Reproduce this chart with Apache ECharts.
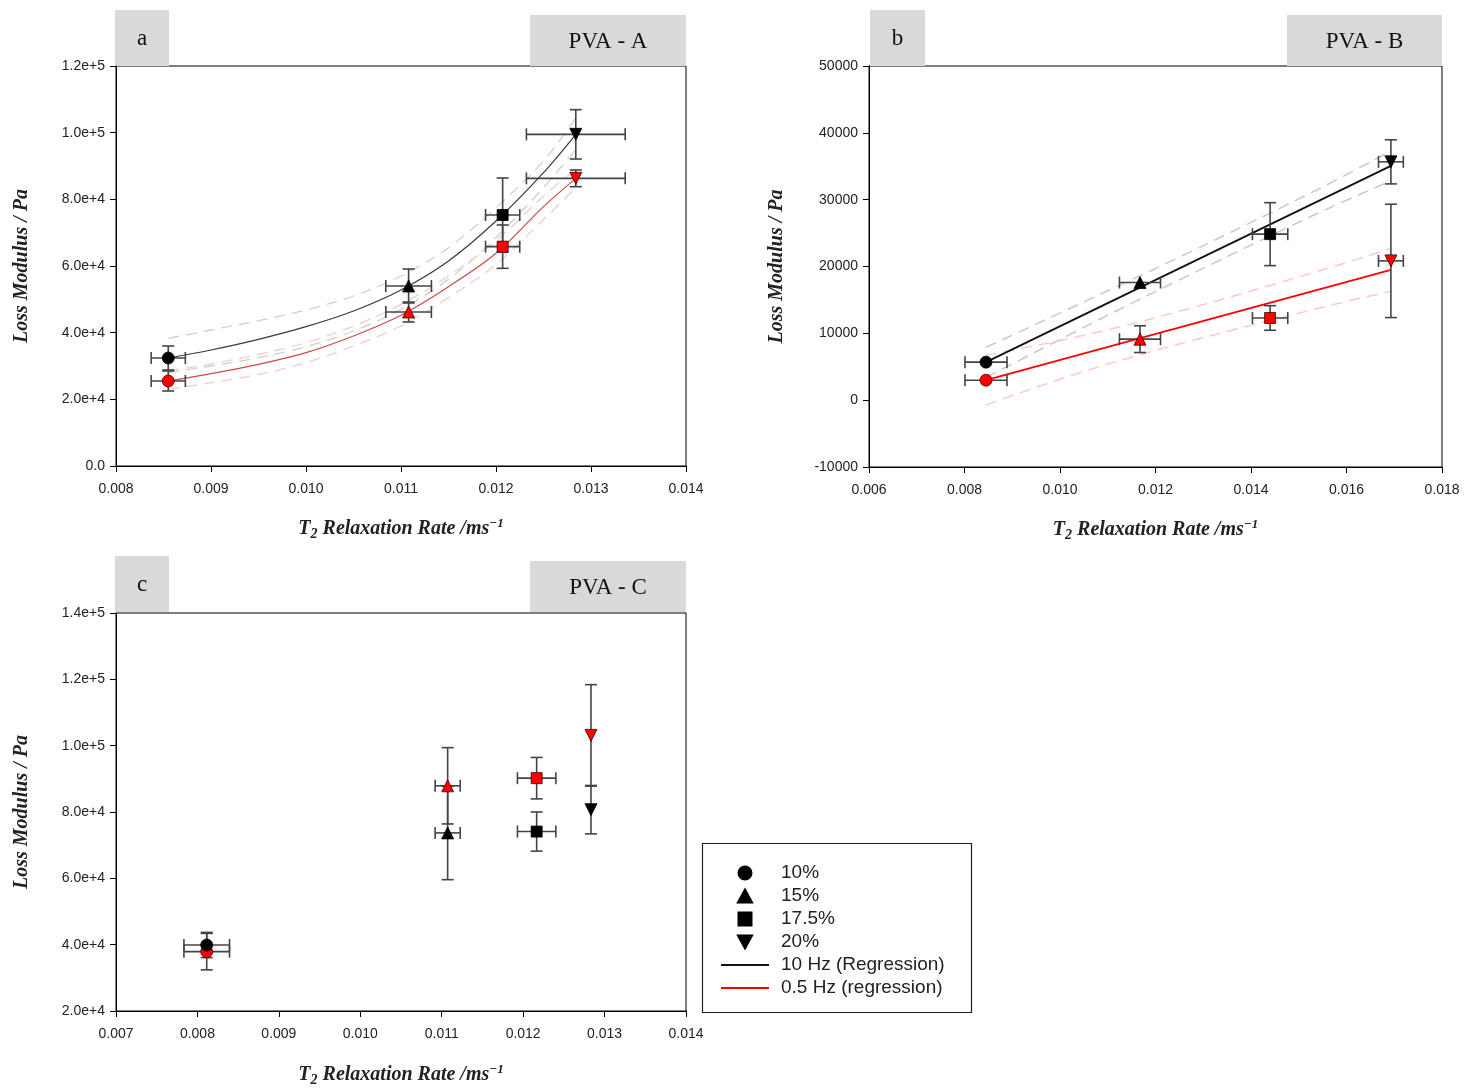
<!DOCTYPE html>
<html>
<head>
<meta charset="utf-8">
<script src="https://cdn.jsdelivr.net/npm/echarts@6/dist/echarts.min.js"></script>
<style>
  html, body { margin: 0; padding: 0; background: #fff; }
  #chart { width: 1468px; height: 1088px; }
</style>
</head>
<body>
<div id="chart"></div>
<script>
// concentrations (legend) and panel data
const concNames = ['10%', '15%', '17.5%', '20%'];

// panel a  (PVA - A)
const aX = [0.00855, 0.01108, 0.01207, 0.01284];
const aXErr = [0.00018, 0.00024, 0.00018, 0.00052];
const aHiY = [32400, 54000, 75300, 99500];
const aHiYErr = [3600, 5100, 11100, 7400];
const aLoY = [25500, 46200, 65800, 86300];
const aLoYErr = [3000, 3000, 6500, 2500];
const aFitX = [0.00855, 0.009, 0.0095, 0.010, 0.0105, 0.011, 0.0115, 0.012, 0.0125, 0.01284];
const aFitHi = [32400, 34800, 38000, 41800, 46500, 52800, 61500, 73500, 88000, 99500];
const aFitHiUp = [38300, 40800, 43600, 46800, 51000, 57000, 65500, 77500, 91500, 104500];
const aFitHiDn = [28000, 30000, 32500, 35800, 40500, 47000, 56000, 68500, 83500, 95000];
const aFitLo = [25500, 27700, 30500, 34000, 39000, 45200, 53800, 63800, 77800, 86300];
const aFitLoUp = [28500, 30600, 33500, 37000, 42000, 48500, 57000, 67500, 81000, 89000];
const aFitLoDn = [23000, 25000, 27500, 31000, 36000, 42000, 50500, 60500, 74000, 83500];

// panel b  (PVA - B)
const bX = [0.00845, 0.011675, 0.01440, 0.01693];
const bXErr = [0.00044, 0.00043, 0.00037, 0.00026];
const bHiY = [5690, 17600, 24840, 35660];
const bHiYErr = [0, 0, 4710, 3300];
const bLoY = [2990, 9130, 12300, 20840];
const bLoYErr = [0, 2000, 1840, 8480];
const bFitX = [0.00845, 0.01693];
const bFitHi = [5690, 35060];
const bFitLo = [2990, 19500];
const bBandX = [0.00845, 0.0105, 0.0125, 0.0155, 0.01693];
const bFitHiUp = [7900, 14700, 21400, 31900, 37300];
const bFitHiDn = [3400, 10900, 18000, 28300, 32800];
const bFitLoUp = [6700, 9700, 13300, 19500, 22700];
const bFitLoDn = [-700, 4300, 8400, 13900, 16300];

// panel c  (PVA - C)
const cX = [0.008114, 0.011073, 0.012166, 0.012833];
const cXErr = [0.00028, 0.000154, 0.000236, 0];
const cHiY = [39900, 73700, 74100, 80700];
const cHiYErr = [3800, 14100, 5900, 7300];
const cLoY = [37900, 87900, 90200, 103100];
const cLoYErr = [5500, 11500, 6250, 15300];

const sans = 'Liberation Sans, Arial, sans-serif';
const serif = 'Liberation Serif, Times New Roman, serif';
const RED = '#ff0000';
const HI_NAME = '10 Hz (Regression)';
const LO_NAME = '0.5 Hz (regression)';

const symbols = [
  { symbol: 'circle', size: 12, rotate: 0 },
  { symbol: 'triangle', size: 12, rotate: 0 },
  { symbol: 'rect', size: 11, rotate: 0 },
  { symbol: 'triangle', size: 12, rotate: 180 }
];

const grids = [
  { left: 116, top: 66, width: 570, height: 400 },
  { left: 869, top: 66, width: 573, height: 401 },
  { left: 116, top: 613, width: 570, height: 400 }
].map(g => Object.assign({ show: true, borderColor: '#000', borderWidth: 1, backgroundColor: 'transparent' }, g));

const sci = v => (v === 0 ? '0.0' : v.toExponential(1));

function xAxis(gi, min, max, interval) {
  return {
    type: 'value', gridIndex: gi, min, max, interval,
    name: 'T{sub|2} Relaxation Rate /ms{sup|−1}',
    nameLocation: 'middle', nameGap: gi === 2 ? 52 : 51,
    nameTextStyle: {
      fontFamily: serif, fontSize: 20, fontWeight: 'bold', fontStyle: 'italic', color: '#222',
      rich: {
        sub: { fontFamily: serif, fontSize: 14, fontWeight: 'bold', fontStyle: 'italic', verticalAlign: 'bottom', padding: [10, 0, 0, 0], color: '#222' },
        sup: { fontFamily: serif, fontSize: 13, fontWeight: 'bold', fontStyle: 'italic', verticalAlign: 'top', padding: [0, 0, 8, 0], color: '#222' }
      }
    },
    axisLine: { show: true, onZero: false, lineStyle: { color: '#000', width: 1 } },
    axisTick: { show: true, inside: false, length: 6, lineStyle: { color: '#000' } },
    axisLabel: { fontFamily: sans, fontSize: 14, color: '#222', margin: 16, formatter: v => v.toFixed(3) },
    splitLine: { show: false }
  };
}

function yAxis(gi, min, max, interval, fmt) {
  return {
    type: 'value', gridIndex: gi, min, max, interval,
    name: 'Loss Modulus / Pa',
    nameLocation: 'middle', nameGap: gi === 1 ? 82 : 84,
    nameTextStyle: { fontFamily: serif, fontSize: 20, fontWeight: 'bold', fontStyle: 'italic', color: '#222' },
    axisLine: { show: true, onZero: false, lineStyle: { color: '#000', width: 1 } },
    axisTick: { show: true, inside: false, length: 6, lineStyle: { color: '#000' } },
    axisLabel: { fontFamily: sans, fontSize: 14, color: '#222', margin: 11, formatter: fmt },
    splitLine: { show: false }
  };
}

function errRender(params, api) {
  const x = api.value(0), y = api.value(1), xe = api.value(2), ye = api.value(3);
  const c = api.coord([x, y]);
  const st = { stroke: '#444', lineWidth: 1.6 };
  const cap = 6;
  const kids = [];
  if (ye > 0) {
    const t = api.coord([x, y + ye]), b = api.coord([x, y - ye]);
    kids.push({ type: 'line', shape: { x1: c[0], y1: t[1], x2: c[0], y2: b[1] }, style: st });
    kids.push({ type: 'line', shape: { x1: c[0] - cap, y1: t[1], x2: c[0] + cap, y2: t[1] }, style: st });
    kids.push({ type: 'line', shape: { x1: c[0] - cap, y1: b[1], x2: c[0] + cap, y2: b[1] }, style: st });
  }
  if (xe > 0) {
    const l = api.coord([x - xe, y]), r = api.coord([x + xe, y]);
    kids.push({ type: 'line', shape: { x1: l[0], y1: c[1], x2: r[0], y2: c[1] }, style: st });
    kids.push({ type: 'line', shape: { x1: l[0], y1: c[1] - cap, x2: l[0], y2: c[1] + cap }, style: st });
    kids.push({ type: 'line', shape: { x1: r[0], y1: c[1] - cap, x2: r[0], y2: c[1] + cap }, style: st });
  }
  return { type: 'group', children: kids };
}

const series = [];

function addPanel(gi, xs, xErr, hiY, hiErr, loY, loErr) {
  const errData = [];
  xs.forEach((x, i) => {
    errData.push([x, loY[i], xErr[i], loErr[i]]);
    errData.push([x, hiY[i], xErr[i], hiErr[i]]);
  });
  series.push({
    type: 'custom', xAxisIndex: gi, yAxisIndex: gi, renderItem: errRender,
    data: errData, encode: { x: 0, y: 1 }, z: 4, silent: true
  });
  xs.forEach((x, i) => {
    const s = symbols[i];
    series.push({
      name: concNames[i], type: 'scatter', xAxisIndex: gi, yAxisIndex: gi,
      symbol: s.symbol, symbolSize: s.size, symbolRotate: s.rotate, z: 6,
      itemStyle: { color: '#000', borderColor: '#000', borderWidth: 0.8, opacity: 1 },
      data: [
        { value: [x, loY[i]], itemStyle: { color: RED, borderColor: '#3a0000', borderWidth: 0.8, opacity: 1 } },
        [x, hiY[i]]
      ]
    });
  });
}

function addLine(gi, name, xs, ys, color, width, dashed, smooth) {
  series.push({
    name, type: 'line', xAxisIndex: gi, yAxisIndex: gi,
    data: xs.map((x, i) => [x, ys[i]]),
    showSymbol: false, symbol: 'none', smooth: smooth ? 0.35 : false,
    color, z: dashed ? 2 : 3, silent: true,
    lineStyle: { color, width, type: dashed ? [11, 7] : 'solid' }
  });
}

// panel a curves
addLine(0, 'aHiUp', aFitX, aFitHiUp, '#cfcfcf', 1.3, true, true);
addLine(0, 'aHiDn', aFitX, aFitHiDn, '#cfcfcf', 1.3, true, true);
addLine(0, 'aLoUp', aFitX, aFitLoUp, '#f4cccc', 1.3, true, true);
addLine(0, 'aLoDn', aFitX, aFitLoDn, '#f4cccc', 1.3, true, true);
addLine(0, HI_NAME, aFitX, aFitHi, '#3a3a3a', 1.2, false, true);
addLine(0, LO_NAME, aFitX, aFitLo, '#cc4a4a', 1.2, false, true);

// panel b lines
addLine(1, 'bHiUp', bBandX, bFitHiUp, '#c8c8c8', 1.5, true, true);
addLine(1, 'bHiDn', bBandX, bFitHiDn, '#c8c8c8', 1.5, true, true);
addLine(1, 'bLoUp', bBandX, bFitLoUp, '#ffc8c8', 1.5, true, true);
addLine(1, 'bLoDn', bBandX, bFitLoDn, '#ffc8c8', 1.5, true, true);
addLine(1, HI_NAME, bFitX, bFitHi, '#111111', 1.8, false, false);
addLine(1, LO_NAME, bFitX, bFitLo, RED, 1.8, false, false);

addPanel(0, aX, aXErr, aHiY, aHiYErr, aLoY, aLoYErr);
addPanel(1, bX, bXErr, bHiY, bHiYErr, bLoY, bLoYErr);
addPanel(2, cX, cXErr, cHiY, cHiYErr, cLoY, cLoYErr);

function header(x, y, w, h, text) {
  return {
    type: 'group', left: x, top: y, z: 1,
    children: [
      { type: 'rect', shape: { x: 0, y: 0, width: w, height: h }, style: { fill: '#d9d9d9' } },
      { type: 'text', x: w / 2, y: h / 2 + 1, style: { text, fontFamily: serif, fontSize: 23, fill: '#111', align: 'center', verticalAlign: 'middle' } }
    ]
  };
}

const chart = echarts.init(document.getElementById('chart'), null, { renderer: 'canvas' });
chart.setOption({
  backgroundColor: '#fff',
  animation: false,
  grid: grids,
  xAxis: [xAxis(0, 0.008, 0.014, 0.001), xAxis(1, 0.006, 0.018, 0.002), xAxis(2, 0.007, 0.014, 0.001)],
  yAxis: [
    yAxis(0, 0, 120000, 20000, sci),
    yAxis(1, -10000, 50000, 10000, v => String(v)),
    yAxis(2, 20000, 140000, 20000, sci)
  ],
  legend: {
    orient: 'vertical', left: 716, top: 858, itemWidth: 48, itemHeight: 13, itemGap: 3,
    selectedMode: false, symbolKeepAspect: true,
    textStyle: { fontFamily: sans, fontSize: 19, color: '#222', lineHeight: 20, padding: [0, 0, 0, 7] },
    data: [
      { name: '10%', icon: 'circle', itemStyle: { color: '#000', opacity: 1 } },
      { name: '15%', icon: 'path://M6,0L12,11L0,11Z', itemStyle: { color: '#000', opacity: 1 } },
      { name: '17.5%', icon: 'path://M0,0H10V10H0Z', itemStyle: { color: '#000', opacity: 1 } },
      { name: '20%', icon: 'path://M0,0L12,0L6,11Z', itemStyle: { color: '#000', opacity: 1 } },
      { name: HI_NAME, icon: 'path://M0,0H48V2H0Z', itemStyle: { color: '#111', opacity: 1 } },
      { name: LO_NAME, icon: 'path://M0,0H48V2H0Z', itemStyle: { color: RED, opacity: 1 } }
    ]
  },
  graphic: [
    header(115, 10, 54, 56, 'a'),
    header(530, 15, 156, 51, 'PVA - A'),
    header(870, 10, 55, 56, 'b'),
    header(1287, 15, 155, 51, 'PVA - B'),
    header(115, 556, 54, 56, 'c'),
    header(530, 561, 156, 51, 'PVA - C'),
    { type: 'rect', left: 700, top: 841, shape: { x: 0, y: 0, width: 269, height: 169 }, style: { fill: 'none', stroke: '#222', lineWidth: 1.2 }, z: 0 }
  ],
  series
});
</script>
</body>
</html>
